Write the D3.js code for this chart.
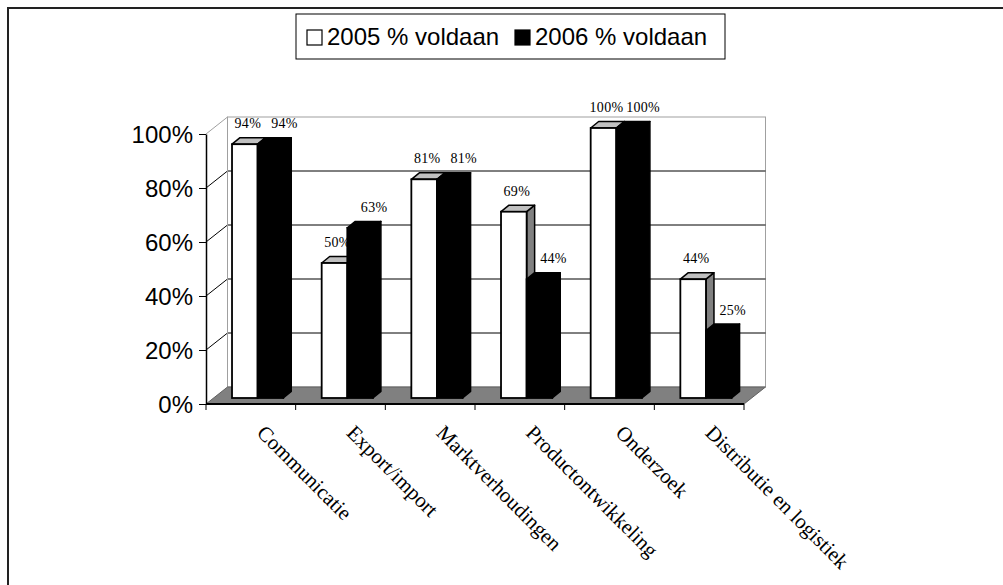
<!DOCTYPE html>
<html>
<head>
<meta charset="utf-8">
<script src="https://cdn.jsdelivr.net/npm/d3@7"></script>
<style>
  body { margin: 0; background: #fff; }
  svg { display: block; }
</style>
</head>
<body>
<svg id="chart" width="1003" height="585"></svg>
<script>
const categories = ['Communicatie', 'Export/import', 'Marktverhoudingen', 'Productontwikkeling', 'Onderzoek', 'Distributie en logistiek']
const seriesNames = ['2005 % voldaan', '2006 % voldaan']
const values2005 = [0.94, 0.50, 0.81, 0.69, 1.00, 0.44]
const values2006 = [0.94, 0.63, 0.81, 0.44, 1.00, 0.25]
const yTicks = [0, 0.2, 0.4, 0.6, 0.8, 1]

const svg = d3.select('#chart')

// oblique depth offsets (front plane -> bar front, bar depth, back wall)
const barShift = { dx: 6.8, dy: -6 }
const barDepth = { dx: 8, dy: -6.5 }
const wall = { dx: 21.5, dy: -17 }

const x0 = d3.scaleBand().domain(categories).range([206, 744]).paddingInner(0).paddingOuter(0)
const x1 = d3.scaleBand().domain(seriesNames).range([0, x0.bandwidth()]).paddingInner(0).paddingOuter(0.75)
const y = d3.scaleLinear().domain([0, 1]).range([404, 134])

const data = categories.map((c, i) => ({ cat: c, vals: [values2005[i], values2006[i]] }))

// outer frame (runs off right/bottom edge)
svg.append('rect')
  .attr('x', 8).attr('y', 8).attr('width', 1100).attr('height', 700)
  .attr('fill', 'none').attr('stroke', '#222').attr('stroke-width', 2)

const walls = svg.append('g').classed('walls', true)
const x0min = x0.range()[0]
const x0max = x0.range()[1]

// back wall
walls.append('rect')
  .attr('x', x0min + wall.dx).attr('y', y(1) + wall.dy)
  .attr('width', x0max - x0min).attr('height', y(0) - y(1))
  .attr('fill', '#fff').attr('stroke', '#a0a0a0').attr('stroke-width', 1)

// gridlines on back wall and left side wall
yTicks.filter(t => t > 0 && t < 1).forEach(t => {
  walls.append('line')
    .attr('x1', x0min + wall.dx).attr('x2', x0max + wall.dx)
    .attr('y1', y(t) + wall.dy).attr('y2', y(t) + wall.dy)
    .attr('stroke', '#000').attr('stroke-width', 1)
  walls.append('line')
    .attr('x1', x0min).attr('x2', x0min + wall.dx)
    .attr('y1', y(t)).attr('y2', y(t) + wall.dy)
    .attr('stroke', '#000').attr('stroke-width', 1)
})
// left wall top edge
walls.append('line')
  .attr('x1', x0min).attr('x2', x0min + wall.dx)
  .attr('y1', y(1)).attr('y2', y(1) + wall.dy)
  .attr('stroke', '#a0a0a0').attr('stroke-width', 1)
walls.append('line')
  .attr('x1', x0min + wall.dx).attr('x2', x0min + wall.dx)
  .attr('y1', y(1) + wall.dy).attr('y2', y(0) + wall.dy)
  .attr('stroke', '#a0a0a0').attr('stroke-width', 1)

// floor
const fy = y(0)
walls.append('path')
  .attr('d', `M${x0min},${fy}L${x0max},${fy}L${x0max + wall.dx},${fy + wall.dy}L${x0min + wall.dx},${fy + wall.dy}Z`)
  .attr('fill', '#808080').attr('stroke', '#606060').attr('stroke-width', 1)

// y axis
const yAxis = d3.axisLeft(y)
  .tickValues(yTicks)
  .tickFormat(d3.format('.0%'))
  .tickSize(7)
  .tickSizeOuter(0)
  .tickPadding(6)
const yg = svg.append('g').attr('transform', `translate(${x0min},0)`).call(yAxis)
yg.select('.domain').attr('stroke', '#000').attr('stroke-width', 1.5)
yg.selectAll('.tick line').attr('stroke', '#000')
yg.selectAll('.tick text')
  .attr('font-family', 'Liberation Sans, Arial, sans-serif')
  .attr('font-size', 24)
  .attr('fill', '#000')
  .attr('dy', '0.36em')

// floor front edge + category ticks
svg.append('line')
  .attr('x1', x0min).attr('x2', x0max).attr('y1', fy).attr('y2', fy)
  .attr('stroke', '#000').attr('stroke-width', 2)
const tickXs = categories.map(c => x0(c)).concat([x0max])
svg.append('g').selectAll('line')
  .data(tickXs)
  .enter().append('line')
  .attr('x1', d => d).attr('x2', d => d)
  .attr('y1', fy).attr('y2', fy + 6)
  .attr('stroke', '#000').attr('stroke-width', 1)

// bars
const faceColors = [
  { front: '#fff', top: '#c0c0c0', side: '#808080' },
  { front: '#000', top: '#000', side: '#000' }
]

const bars = svg.append('g').classed('bars', true)
data.forEach(d => {
  d.vals.forEach((v, si) => {
    const xl = x0(d.cat) + x1(seriesNames[si]) + barShift.dx
    const xr = xl + x1.bandwidth()
    const yb = y(0) + barShift.dy
    const yt = y(v) + barShift.dy
    const c = faceColors[si]
    const g = bars.append('g')
    const stroke = '#000'
    // side face
    g.append('path')
      .attr('d', `M${xr},${yb}L${xr},${yt}L${xr + barDepth.dx},${yt + barDepth.dy}L${xr + barDepth.dx},${yb + barDepth.dy}Z`)
      .attr('fill', c.side).attr('stroke', stroke).attr('stroke-width', 1.5).attr('stroke-linejoin', 'round')
    // top face
    g.append('path')
      .attr('d', `M${xl},${yt}L${xr},${yt}L${xr + barDepth.dx},${yt + barDepth.dy}L${xl + barDepth.dx},${yt + barDepth.dy}Z`)
      .attr('fill', c.top).attr('stroke', stroke).attr('stroke-width', 1.5).attr('stroke-linejoin', 'round')
    // front face
    g.append('rect')
      .attr('x', xl).attr('y', yt)
      .attr('width', xr - xl).attr('height', yb - yt)
      .attr('fill', c.front).attr('stroke', stroke).attr('stroke-width', 1.8)
  })
})

// data labels
const labelOffset = [3, 14]
const labels = svg.append('g').classed('labels', true)
data.forEach(d => {
  d.vals.forEach((v, si) => {
    const cx = x0(d.cat) + x1(seriesNames[si]) + barShift.dx + x1.bandwidth() / 2 + labelOffset[si]
    labels.append('text')
      .attr('x', cx)
      .attr('y', y(v) + barShift.dy - 21 + 5)
      .attr('text-anchor', 'middle')
      .attr('font-family', 'Liberation Serif, Times New Roman, serif')
      .attr('font-size', 14)
      .attr('letter-spacing', 0.3)
      .attr('fill', '#000')
      .text(d3.format('.0%')(v))
  })
})

// category labels, rotated 45deg
svg.append('g').selectAll('text')
  .data(categories)
  .enter().append('text')
  .attr('transform', d => `translate(${x0(d) + x0.bandwidth() / 2 + 5},434) rotate(45)`)
  .attr('text-anchor', 'start')
  .attr('font-family', 'Liberation Serif, Times New Roman, serif')
  .attr('font-size', 21)
  .attr('fill', '#000')
  .text(d => d)

// legend
const legend = svg.append('g').classed('legend', true)
legend.append('rect')
  .attr('x', 296).attr('y', 14).attr('width', 429).attr('height', 45)
  .attr('fill', '#fff').attr('stroke', '#000').attr('stroke-width', 1)
const legendX = [307, 515]
seriesNames.forEach((s, i) => {
  legend.append('rect')
    .attr('x', legendX[i]).attr('y', 30).attr('width', 15).attr('height', 15)
    .attr('fill', faceColors[i].front).attr('stroke', '#000').attr('stroke-width', 1.2)
  legend.append('text')
    .attr('x', legendX[i] + 20).attr('y', 45)
    .attr('font-family', 'Liberation Sans, Arial, sans-serif')
    .attr('font-size', 24)
    .attr('fill', '#000')
    .text(s)
})
</script>
</body>
</html>
